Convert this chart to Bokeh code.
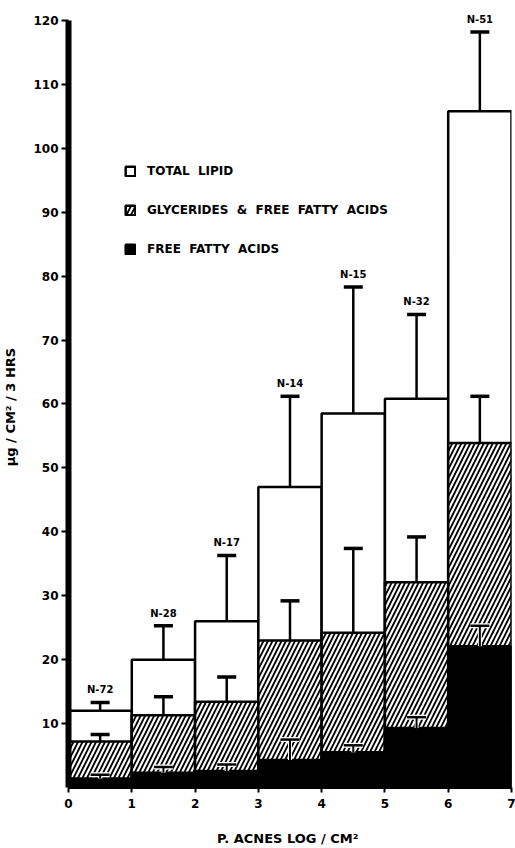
from bokeh.plotting import figure
from bokeh.models import ColumnDataSource, Range1d, FixedTicker, Legend, LegendItem
from bokeh.core.properties import value
from bokeh.embed import file_html
from bokeh.resources import INLINE

# ---- data ----
bin_left = [0, 1, 2, 3, 4, 5, 6]
total_lipid = [12.0, 20.0, 26.0, 47.0, 58.5, 60.8, 105.8]
total_lipid_err = [13.3, 25.3, 36.3, 61.2, 78.3, 74.0, 118.2]
glycerides_ffa = [7.2, 11.3, 13.4, 23.0, 24.2, 32.1, 53.9]
glycerides_ffa_err = [8.3, 14.2, 17.3, 29.2, 37.4, 39.2, 61.2]
free_fatty_acids = [1.4, 2.3, 2.6, 4.3, 5.5, 9.3, 22.1]
free_fatty_acids_err = [2.0, 3.2, 3.6, 7.5, 6.6, 11.0, 25.3]
n_labels = ["N-72", "N-28", "N-17", "N-14", "N-15", "N-32", "N-51"]
x_ticks = [0, 1, 2, 3, 4, 5, 6, 7]
y_ticks = [10, 20, 30, 40, 50, 60, 70, 80, 90, 100, 110, 120]

FONT = "DejaVu Sans"
cap_half = 0.15

centers = [b + 0.5 for b in bin_left]
src = ColumnDataSource(dict(
    x=centers,
    cl=[c - cap_half for c in centers],
    cr=[c + cap_half for c in centers],
    total=total_lipid, total_err=total_lipid_err,
    glyc=glycerides_ffa, glyc_err=glycerides_ffa_err,
    ffa=free_fatty_acids, ffa_err=free_fatty_acids_err,
    n=n_labels,
))

p = figure(width=515, height=848, output_backend="svg", toolbar_location=None,
           x_range=Range1d(0, 7), y_range=Range1d(0, 121.87),
           min_border_left=68, min_border_right=4, min_border_top=8,
           min_border_bottom=59)
p.outline_line_color = None
p.xgrid.visible = False
p.ygrid.visible = False

r_total = p.vbar(x="x", top="total", bottom=0, width=1, source=src,
                 fill_color="white", line_color="black", line_width=2.5)
r_glyc = p.vbar(x="x", top="glyc", bottom=0, width=1, source=src,
                fill_color="white", line_color="black", line_width=2.5,
                hatch_pattern="/", hatch_color="black", hatch_weight=1.8,
                hatch_scale=9)
r_ffa = p.vbar(x="x", top="ffa", bottom=0, width=1, source=src,
               fill_color="black", line_color="black", line_width=2.5)

# error bars
for top, err in (("total", "total_err"), ("glyc", "glyc_err")):
    p.segment(x0="x", y0=top, x1="x", y1=err, source=src,
              line_color="black", line_width=2.5)
    p.segment(x0="cl", y0=err, x1="cr", y1=err, source=src,
              line_color="black", line_width=3.5)
p.segment(x0="x", y0="ffa", x1="x", y1="ffa_err", source=src,
          line_color="white", line_width=4)
p.segment(x0="cl", y0="ffa_err", x1="cr", y1="ffa_err", source=src,
          line_color="white", line_width=5)
p.segment(x0="x", y0="ffa", x1="x", y1="ffa_err", source=src,
          line_color="black", line_width=2)
p.segment(x0="cl", y0="ffa_err", x1="cr", y1="ffa_err", source=src,
          line_color="black", line_width=2.5)

p.text(x="x", y="total_err", text="n", source=src, text_align="center",
       text_baseline="bottom", y_offset=-7, text_font=value(FONT),
       text_font_style="bold", text_font_size="10px", text_color="black")

# axes
p.xaxis.ticker = FixedTicker(ticks=x_ticks)
p.yaxis.ticker = FixedTicker(ticks=y_ticks)
p.yaxis.bounds = (0, 120)
p.xaxis.bounds = (0, 7)
for ax in (p.xaxis, p.yaxis):
    ax.major_label_text_font = FONT
    ax.major_label_text_font_style = "bold"
    ax.major_label_text_font_size = "12px"
    ax.major_label_text_color = "black"
    ax.axis_line_color = "black"
    ax.major_tick_line_color = "black"
    ax.major_tick_line_width = 2
    ax.major_tick_in = 0
    ax.minor_tick_line_color = None
    ax.axis_label_text_font = FONT
    ax.axis_label_text_font_style = "bold"
    ax.axis_label_text_font_size = "13px"
    ax.axis_label_text_color = "black"
p.yaxis.axis_line_width = 6
p.yaxis.major_tick_out = 7
p.yaxis.major_label_standoff = 3
p.xaxis.axis_line_width = 3
p.xaxis.major_tick_out = 5
p.xaxis.major_label_standoff = 6
p.xaxis.axis_label = "P. ACNES  LOG / CM²"
p.xaxis.axis_label_standoff = 20
p.yaxis.axis_label = "µg  /  CM²  /  3 HRS"
p.yaxis.axis_label_standoff = 12

legend = Legend(items=[
    LegendItem(label="TOTAL  LIPID", renderers=[r_total]),
    LegendItem(label="GLYCERIDES  &  FREE  FATTY  ACIDS", renderers=[r_glyc]),
    LegendItem(label="FREE  FATTY  ACIDS", renderers=[r_ffa]),
], location=(56, 531), orientation="vertical")
legend.border_line_color = None
legend.background_fill_alpha = 0
legend.padding = 0
legend.margin = 0
legend.spacing = 25
legend.glyph_width = 12
legend.glyph_height = 12
legend.label_height = 12
legend.label_standoff = 11
legend.label_text_font = FONT
legend.label_text_font_style = "bold"
legend.label_text_font_size = "12px"
legend.label_text_color = "black"
legend.label_text_baseline = "middle"
p.add_layout(legend, "center")

open("out.html", "w").write(file_html(p, INLINE))
